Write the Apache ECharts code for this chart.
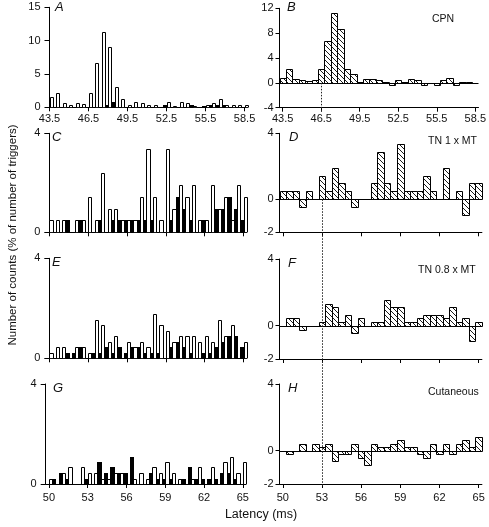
<!DOCTYPE html>
<html><head><meta charset="utf-8">
<script src="https://cdn.jsdelivr.net/npm/echarts@6/dist/echarts.min.js"></script>
<style>html,body{margin:0;padding:0;background:#fff}#c{width:489px;height:527px}</style>
</head><body><div id="c"></div>
<script>
// ---------- DATA ----------
// latency bins (ms), bin centres
const latAB = [43.5,44,44.5,45,45.5,46,46.5,47,47.5,48,48.5,49,49.5,50,50.5,51,51.5,52,52.5,53,53.5,54,54.5,55,55.5,56,56.5,57,57.5,58,58.5];
const latCH = [50,50.5,51,51.5,52,52.5,53,53.5,54,54.5,55,55.5,56,56.5,57,57.5,58,58.5,59,59.5,60,60.5,61,61.5,62,62.5,63,63.5,64,64.5,65];
const ticksAB = [43.5,46.5,49.5,52.5,55.5,58.5];
const ticksCH = [50,53,56,59,62,65];
const ticksRightY = [-2,0,4];

// A: open = stimulus, black = control (% of triggers)
const aOpen  = [1.5,2.2,0.7,0.4,0.7,0.5,2.2,6.7,11.3,9.0,3.0,1.3,0.3,0.8,0.7,0.4,0.4,0.1,0.8,0.2,0.8,0.6,0.2,0.1,0.3,0.6,1.3,0.3,0.3,0.3,0.3];
const aBlack = [0,0,0,0.1,0,0,0,0,0.3,0.8,0,0,0.1,0,0,0,0,0.3,0,0,0.1,0.3,0,0.2,0.3,0.3,0.3,0,0.1,0.1,0.1];
// B: difference (CPN)
const bDiff  = [0.85,2.3,0.6,0.4,0.3,0.4,2.3,6.7,11.2,8.7,2.2,1.4,0.2,0.6,0.6,0.4,0.2,-0.3,0.4,0.2,0.6,0.4,-0.4,0,-0.3,0.4,0.85,-0.3,0.15,0.15,0];
// C / D : TN 1 x MT
const cOpen  = [0.48,0.48,0.48,0,0.48,0.48,1.44,0.48,2.4,0.96,0.96,0.48,0.48,0.48,1.44,3.36,1.44,0.48,3.36,0.96,1.92,1.44,1.92,0.48,0.48,1.92,0.96,1.44,0.48,1.92,1.44];
const cBlack = [0,0,0.48,0,0.48,0,0,0.48,0,0.48,0.48,0.48,0.48,0.48,0.48,0.48,0,0,0.48,1.44,0.96,0.48,0,0.48,0,0.96,0.96,1.44,0.96,0.48,0];
const dDiff  = [0.48,0.48,0.48,-0.48,0.48,0,1.44,0.48,1.92,0.96,0.48,-0.48,0,0,0.96,2.88,0.96,0.48,3.36,0.48,0.48,0.48,1.44,0.48,0,1.92,0,0.48,-0.96,0.96,0.96];
// E / F : TN 0.8 x MT
const eOpen  = [0.22,0.44,0.44,0,0.44,0.44,0.22,1.54,1.32,0.66,0.88,0,0.66,0.44,0.66,0.44,1.76,1.32,1.1,0.66,0.88,0.88,0.88,0.66,0.88,0.66,1.54,0.88,1.32,0,0.66];
const eBlack = [0,0,0.22,0.22,0.44,0,0.22,0.22,0.44,0.22,0.44,0.22,0.44,0.44,0.22,0.22,0.22,0,0.44,0.66,0.44,0.22,0,0.22,0.22,0.44,0.66,0.88,0.88,0.44,0];
const fDiff  = [0,0.46,0.46,-0.23,0,0,0.23,1.3,1.1,0.23,0.66,-0.44,0.44,0,0.23,0.23,1.52,1.1,1.1,0.23,0.23,0.44,0.66,0.66,0.66,0.44,1.1,0.23,0.44,-0.9,0.23];
// G / H : Cutaneous
const gOpen  = [0.22,0,0.45,0.67,0,0.67,0.45,0.45,0.22,0.22,0.45,0.45,0,0.22,0.45,0.22,0.67,0.45,0.9,0.45,0.22,0,0.22,0.67,0,0.67,0,0.9,1.1,0.45,0.9];
const gBlack = [0.22,0.45,0.22,0,0,0.22,0,0.9,0.45,0.67,0.45,0.45,1.1,0,0,0.45,0.22,0.22,0.22,0,0.22,0.67,0.22,0.22,0.22,0.22,0.45,0.45,0.22,0,0];
const hDiff  = [0,-0.21,0,0.42,0,0.42,0.21,0.42,-0.63,-0.21,-0.21,0.42,-0.42,-0.84,0.42,0.21,0.21,0.42,0.63,0.21,0.21,-0.21,-0.42,0.42,-0.21,0.42,-0.21,0.42,0.63,0.21,0.84];

const panelLetters = ['A','B','C','D','E','F','G','H'];
const panelNames = ['CPN','TN 1 x MT','TN 0.8 x MT','Cutaneous'];
const refLatB = 46.5, refLatDH = 53;
const yTitle = 'Number of counts (% of number of triggers)';
const xTitle = 'Latency (ms)';

// ---------- RENDER ----------
const FONT = 'Arial, "Liberation Sans", Helvetica, sans-serif';
const BIN = 0.5;
const chart = echarts.init(document.getElementById('c'), null, {renderer:'canvas', width:489, height:527});

function hatchCanvas(){
  const s = 5, cv = document.createElement('canvas');
  cv.width = s; cv.height = s;
  const g = cv.getContext('2d');
  g.fillStyle = '#fff'; g.fillRect(0,0,s,s);
  g.strokeStyle = '#000'; g.lineWidth = 0.9;
  g.beginPath();
  g.moveTo(0,0); g.lineTo(s,s);
  g.moveTo(-1,s-1); g.lineTo(1,s+1);
  g.moveTo(s-1,-1); g.lineTo(s+1,1);
  g.stroke();
  return cv;
}
const HATCH = {image: hatchCanvas(), repeat: 'repeat'};

function px(v){ return Math.round(v); }

function renderOpen(params, api){
  const c = api.value(0), v = api.value(1);
  if (!v) return null;
  const p0 = api.coord([c, 0]), p1 = api.coord([c + BIN/2, v]);
  const x0 = px(p0[0]) + 0.5, x1 = px(p1[0]) + 0.5, y0 = px(p0[1]) + 0.5, y1 = px(p1[1]) + 0.5;
  return {type:'rect', shape:{x:x0, y:y1, width:x1-x0, height:y0-y1},
          style:{fill:'#fff', stroke:'#000', lineWidth:1}};
}
function renderBlack(params, api){
  const c = api.value(0), v = api.value(1);
  if (!v) return null;
  const p0 = api.coord([c + BIN/2, 0]), p1 = api.coord([c + BIN, v]);
  const x0 = px(p0[0]), x1 = px(p1[0]) + 1, y0 = px(p0[1]) + 1, y1 = px(p1[1]);
  return {type:'rect', shape:{x:x0, y:y1, width:x1-x0, height:y0-y1},
          style:{fill:'#000'}};
}
function renderHatch(params, api){
  const c = api.value(0), v = api.value(1);
  if (!v) return null;
  const p0 = api.coord([c - BIN/2, 0]), p1 = api.coord([c + BIN/2, v]);
  const x0 = px(p0[0]) + 0.5, x1 = px(p1[0]) + 0.5, y0 = px(p0[1]) + 0.5, y1 = px(p1[1]) + 0.5;
  return {type:'rect', shape:{x:x0, y:Math.min(y0,y1), width:x1-x0, height:Math.abs(y0-y1)},
          style:{fill:HATCH, stroke:'#000', lineWidth:1}};
}

const grids = [
  {left:49.5,  top:7.3,   width:198.3, height:100},   // A
  {left:279.5, top:8.3,   width:202.4, height:99.4},  // B
  {left:49.3,  top:133.3, width:197.5, height:99},    // C
  {left:279.5, top:133.3, width:202.4, height:99},    // D
  {left:49.3,  top:258.3, width:197.5, height:100},   // E
  {left:279.5, top:259,   width:202.4, height:100},   // F
  {left:45.7,  top:384,   width:200.4, height:100},   // G
  {left:279.5, top:384,   width:202.4, height:100}    // H
];

const axisCommon = {
  axisLine:{show:true, onZero:false, lineStyle:{color:'#000', width:1}},
  splitLine:{show:false}
};
function xAx(i, min, max, ticks, showLabels, margin){
  return Object.assign({}, axisCommon, {
    type:'value', gridIndex:i, min:min, max:max,
    axisTick:{show:true, length:4, lineStyle:{color:'#000'}, customValues:ticks},
    axisLabel:{show:showLabels, customValues:ticks, color:'#111', fontFamily:FONT, fontSize:11, margin:margin}
  });
}
function yAxLeft(i, max, interval){
  return Object.assign({}, axisCommon, {
    type:'value', gridIndex:i, min:0, max:max, interval:interval,
    axisTick:{show:true, length:5, lineStyle:{color:'#000'}},
    axisLabel:{color:'#111', fontFamily:FONT, fontSize:11, margin:9}
  });
}
function yAxRight(i, min, max, interval, custom){
  const o = Object.assign({}, axisCommon, {
    type:'value', gridIndex:i, min:min, max:max,
    axisTick:{show:true, length:4, lineStyle:{color:'#000'}},
    axisLabel:{color:'#111', fontFamily:FONT, fontSize:11, margin:6}
  });
  if (custom){ o.axisTick.customValues = custom; o.axisLabel.customValues = custom; }
  else o.interval = interval;
  return o;
}

const xAxes = [
  xAx(0, 43.5, 58.75, ticksAB, true, 6),
  xAx(1, 43.25, 58.75, ticksAB, true, 6),
  xAx(2, 50, 65.25, ticksCH, false, 6),
  xAx(3, 49.75, 65.25, ticksCH, false, 6),
  xAx(4, 50, 65.25, ticksCH, false, 6),
  xAx(5, 49.75, 65.25, ticksCH, false, 6),
  xAx(6, 49.75, 65.25, ticksCH, true, 8),
  xAx(7, 49.75, 65.25, ticksCH, true, 8)
];
const yAxes = [
  yAxLeft(0, 15, 5),
  yAxRight(1, -4, 12, 4, null),
  yAxLeft(2, 4, 4),
  yAxRight(3, -2, 4, 0, ticksRightY),
  yAxLeft(4, 4, 4),
  yAxRight(5, -2, 4, 0, ticksRightY),
  yAxLeft(6, 4, 4),
  yAxRight(7, -2, 4, 0, ticksRightY)
];

function pairs(lat, vals){ return lat.map((c,i)=>[c, vals[i]]); }
function cs(i, data, fn){
  return {type:'custom', xAxisIndex:i, yAxisIndex:i, data:data, renderItem:fn, clip:true, silent:true, animation:false};
}
const series = [
  cs(0, pairs(latAB, aOpen), renderOpen),  cs(0, pairs(latAB, aBlack), renderBlack),
  cs(1, pairs(latAB, bDiff), renderHatch),
  cs(2, pairs(latCH, cOpen), renderOpen),  cs(2, pairs(latCH, cBlack), renderBlack),
  cs(3, pairs(latCH, dDiff), renderHatch),
  cs(4, pairs(latCH, eOpen), renderOpen),  cs(4, pairs(latCH, eBlack), renderBlack),
  cs(5, pairs(latCH, fDiff), renderHatch),
  cs(6, pairs(latCH, gOpen), renderOpen),  cs(6, pairs(latCH, gBlack), renderBlack),
  cs(7, pairs(latCH, hDiff), renderHatch)
];

// text graphics
const letterPos = [[55,1],[287,1],[52,131],[289,131],[52,256],[288,257],[53,382],[288,382]];
const namePos = [[432,13.5],[428,136],[418,264.5],[428,386.5]];
const graphics = [];
panelLetters.forEach((t,i)=>graphics.push({type:'text', id:'L'+i, left:letterPos[i][0], top:letterPos[i][1],
  style:{text:t, font:'italic 13px '+FONT, fill:'#111'}}));
panelNames.forEach((t,i)=>graphics.push({type:'text', id:'N'+i, left:namePos[i][0], top:namePos[i][1],
  style:{text:t, font:'10.5px '+FONT, fill:'#111'}}));
graphics.push({type:'text', id:'yt', x:13, y:235, rotation:Math.PI/2,
  style:{text:yTitle, font:'11.5px '+FONT, fill:'#111', align:'center', verticalAlign:'middle'}});
graphics.push({type:'text', id:'xt', x:261, y:515,
  style:{text:xTitle, font:'12.5px '+FONT, fill:'#111', align:'center', verticalAlign:'middle'}});

chart.setOption({
  animation:false,
  backgroundColor:'#fff',
  grid:grids, xAxis:xAxes, yAxis:yAxes, series:series, graphic:graphics
});

// zero lines and dotted reference lines via the axes' scales
const extra = [];
[[1,43.25,58.75],[3,49.75,65.25],[5,49.75,65.25],[7,49.75,65.25]].forEach(([g,a,b],k)=>{
  const p0 = chart.convertToPixel({gridIndex:g}, [a,0]);
  const p1 = chart.convertToPixel({gridIndex:g}, [b,0]);
  const y = Math.round(p0[1]) + 0.5;
  extra.push({type:'line', id:'z'+k, z:50, shape:{x1:p0[0], y1:y, x2:p1[0], y2:y}, style:{stroke:'#000', lineWidth:1}});
});
{
  const p0 = chart.convertToPixel({gridIndex:1}, [refLatB, 0]);
  const p1 = chart.convertToPixel({gridIndex:1}, [refLatB, -4]);
  const x = Math.round(p0[0]) + 0.5;
  extra.push({type:'line', id:'dB', z:60, shape:{x1:x, y1:p0[1], x2:x, y2:p1[1]+5},
    style:{stroke:'#222', lineWidth:1, lineDash:[1.5,1.5]}});
  const q0 = chart.convertToPixel({gridIndex:3}, [refLatDH, 0]);
  const q1 = chart.convertToPixel({gridIndex:7}, [refLatDH, -2]);
  const xx = Math.round(q0[0]) + 0.5;
  extra.push({type:'line', id:'dH', z:60, shape:{x1:xx, y1:q0[1], x2:xx, y2:q1[1]+2},
    style:{stroke:'#222', lineWidth:1, lineDash:[1.5,1.5]}});
}
chart.setOption({graphic:extra});
</script>
</body></html>
